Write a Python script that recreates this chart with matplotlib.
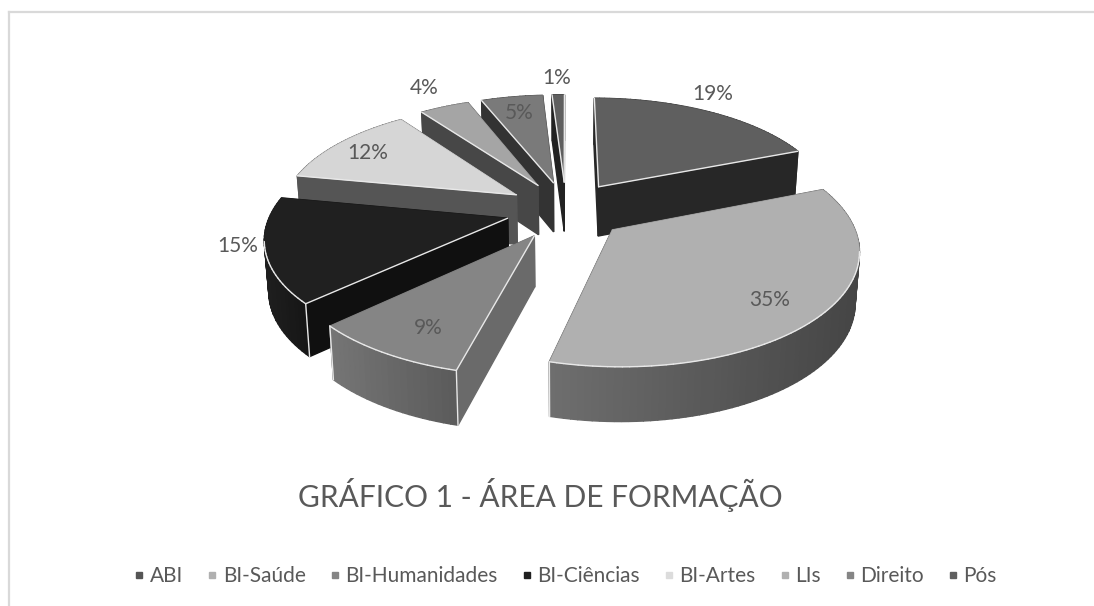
import numpy as np
import matplotlib
matplotlib.use("Agg")
import matplotlib.pyplot as plt
from matplotlib.colors import to_rgb
from matplotlib.patches import Polygon
from matplotlib.lines import Line2D

# data
categories = ['ABI', 'BI-Saúde', 'BI-Humanidades', 'BI-Ciências', 'BI-Artes', 'LIs', 'Direito', 'Pós']
values = [19, 35, 9, 15, 12, 4, 5, 1]

# top colour, radial side colour, outer colours (left and right of the arc)
top_colors = ['#5f5f5f', '#b0b0b0', '#858585', '#202020', '#d6d6d6', '#a5a5a5', '#7a7a7a', '#5f5f5f']
side_colors = ['#272727', '#484848', '#6a6a6a', '#101010', '#555555', '#474747', '#333333', '#222222']
arc_left = ['#272727', '#6e6e6e', '#757575', '#1f1f1f', '#555555', '#474747', '#333333', '#222222']
arc_right = ['#272727', '#454545', '#5b5b5b', '#161616', '#555555', '#474747', '#333333', '#222222']
legend_colors = ['#555555', '#b0b0b0', '#858585', '#202020', '#dcdcdc', '#b0b0b0', '#858585', '#5f5f5f']
label_xy = [(713, 94), (770, 300), (428, 328), (238, 246), (368, 153), (424, 88), (519, 113), (557, 78)]

# pie geometry, in pixels of the picture
CX, CY = 566, 210
EX, EY = 60, 29
RX, RY = 236, 109
K = 0.155
DEPTH = 50
EDGE = '#e8e8e8'

plt.rcParams['font.family'] = ['Lato', 'DejaVu Sans']
TEXT = '#595959'


def project(mid, t):
    # point of an exploded slice, t=None gives the apex
    if t is None:
        u, v = 0.0, 0.0
    else:
        u, v = np.sin(t), np.cos(t)
    s = 1 / (1 + K * (0.27 * np.cos(mid) + v))
    x = CX + (EX * np.sin(mid) + RX * u) * s
    y = CY - (EY * np.cos(mid) + RY * v) * s
    return x, y, s


def drop(x, y, s):
    # point under a top point, the bottom converges a little
    return CX + (x - CX) * 0.985, y + DEPTH * s ** 0.45


fig = plt.figure(figsize=(10.94, 6.06), dpi=100)
ax = fig.add_axes([0, 0, 1, 1])
ax.set_xlim(0, 1094)
ax.set_ylim(606, 0)
ax.axis('off')

ax.add_line(Line2D([9, 1094], [12, 12], color='#d9d9d9', lw=1.6))
ax.add_line(Line2D([9, 9], [12, 606], color='#d9d9d9', lw=1.6))

# angles clockwise from the top
edges = np.cumsum([0] + values) / sum(values) * 2 * np.pi
z = 3

# back slices first
draw_order = [7, 6, 5, 4, 0, 3, 2, 1]
for i in draw_order:
    a0, a1 = edges[i], edges[i + 1]
    mid = (a0 + a1) / 2
    ax_, ay_, s_a = project(mid, None)
    bx, by = drop(ax_, ay_, s_a)
    t = np.linspace(a0, a1, max(int((a1 - a0) * 40), 4))
    x, y, s = project(mid, t)

    faces = []
    # radial faces
    for px, py, ps in [(x[0], y[0], s[0]), (x[-1], y[-1], s[-1])]:
        qx, qy = drop(px, py, ps)
        faces.append(((ay_ + py) / 2, [(ax_, ay_), (px, py), (qx, qy), (bx, by)], side_colors[i]))
    # outer wall, shaded from left to right
    xmin, xmax = x.min(), x.max()
    for j in range(len(x) - 1):
        qx0, qy0 = drop(x[j], y[j], s[j])
        qx1, qy1 = drop(x[j + 1], y[j + 1], s[j + 1])
        f = ((x[j] + x[j + 1]) / 2 - xmin) / max(xmax - xmin, 1)
        c = np.array(to_rgb(arc_left[i])) * (1 - f) + np.array(to_rgb(arc_right[i])) * f
        faces.append(((y[j] + y[j + 1]) / 2, [(x[j], y[j]), (x[j + 1], y[j + 1]), (qx1, qy1), (qx0, qy0)], c))
    faces.sort(key=lambda a: a[0])
    for _, pts, c in faces:
        ax.add_patch(Polygon(pts, closed=True, fc=c, ec=c, lw=1.0, zorder=z))
        z += 1

    # light line on the front corners
    for px, py, ps in [(x[0], y[0], s[0]), (x[-1], y[-1], s[-1])]:
        if py > ay_ + 40:
            qx, qy = drop(px, py, ps)
            ax.add_line(Line2D([px, qx], [py, qy], color=EDGE, lw=1, zorder=z))
            z += 1

    top = [(ax_, ay_)] + list(zip(x, y))
    ax.add_patch(Polygon(top, closed=True, fc=top_colors[i], ec=top_colors[i], lw=0.5, zorder=z))
    z += 1

    # light line only where a side face shows under the top (edge runs to the left)
    px_all = np.r_[ax_, x, ax_]
    py_all = np.r_[ay_, y, ay_]
    for j in range(len(px_all) - 1):
        if px_all[j + 1] < px_all[j]:
            ax.add_line(Line2D(px_all[j:j + 2], py_all[j:j + 2], color=EDGE, lw=1, zorder=z,
                               solid_capstyle='round'))
    z += 1

for val, (lx, ly) in zip(values, label_xy):
    ax.text(lx, ly, f'{val}%', fontsize=15, color=TEXT, ha='center', va='center', zorder=z)

ax.text(540, 495, 'GRÁFICO 1 - ÁREA DE FORMAÇÃO', fontsize=21.5, color=TEXT, ha='center', va='center', zorder=z)

handles = [Line2D([], [], ls='', marker='s', ms=4, color=c) for c in legend_colors]
ax.legend(handles, categories, ncols=8, loc='center', bbox_to_anchor=(563 / 1094, 1 - 576 / 606),
          frameon=False, fontsize=15, labelcolor=TEXT, handletextpad=0.0, columnspacing=0.9,
          handlelength=1.0, borderpad=0, borderaxespad=0)

fig.savefig('out.png', dpi=100)
